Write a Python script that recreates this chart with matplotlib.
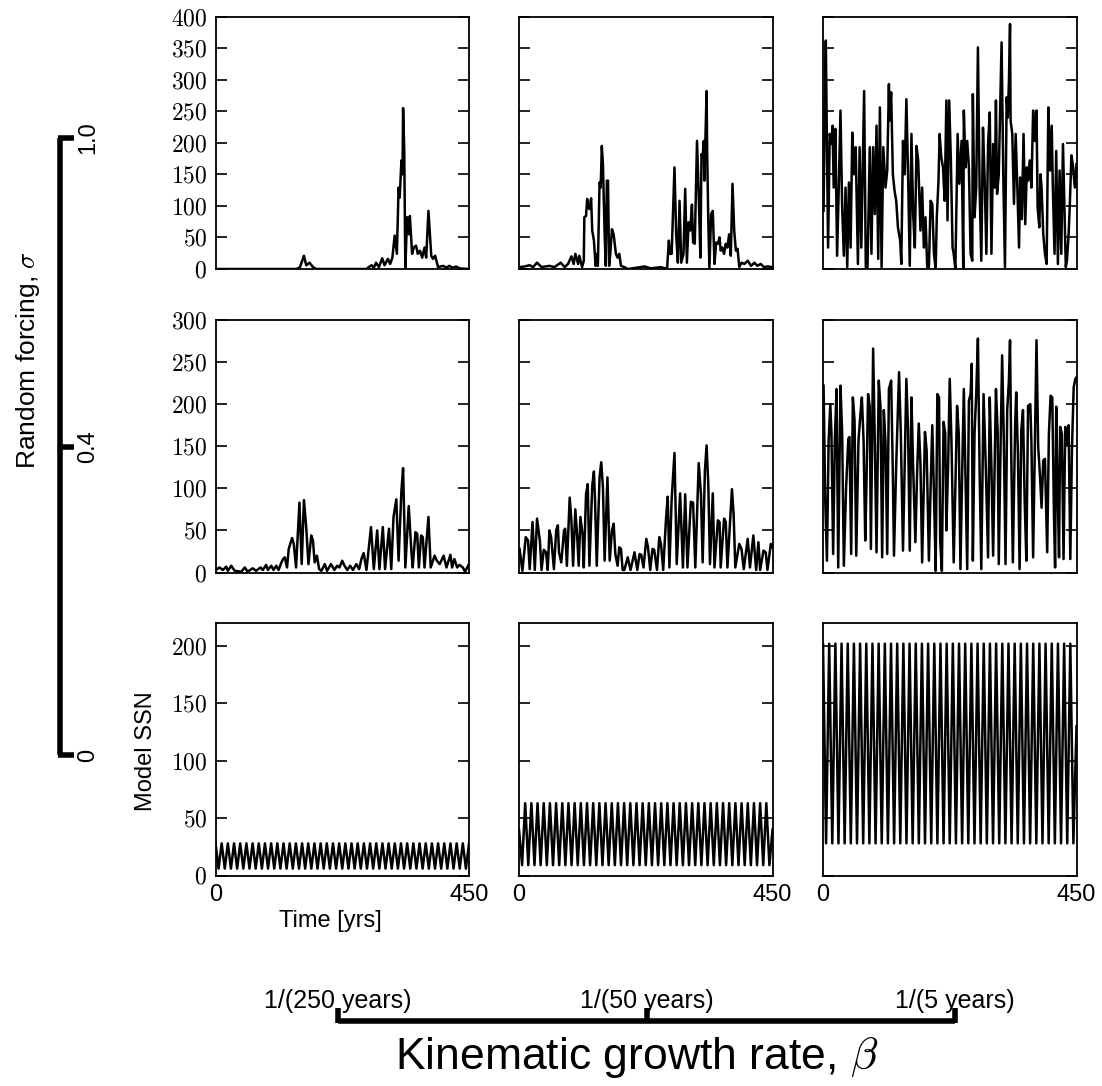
import numpy as np
import matplotlib
matplotlib.use("Agg")
import matplotlib.pyplot as plt
from matplotlib.lines import Line2D

plt.rcParams['font.family'] = ['Liberation Sans', 'DejaVu Sans']
plt.rcParams['mathtext.fontset'] = 'cm'

# ---------------- data ----------------
sigma_labels = ["1.0", "0.4", "0"]
beta_labels = ["1/(250 years)", "1/(50 years)", "1/(5 years)"]

# row 1 (sigma = 1.0)
t_a1 = [0, 144, 150, 157, 161, 167, 173, 179, 268, 272, 277, 281, 285, 290, 296, 300, 306, 310, 314, 318,
        322, 325, 327, 330, 332, 333, 335, 337, 340, 343, 345, 349, 352, 356, 359, 363, 367, 371, 374, 378,
        383, 386, 390, 395, 404, 410, 415, 421, 427, 433, 450]
v_a1 = [0, 0, 3, 21, 6, 10, 3, 0, 0, 3, 6, 2, 10, 3, 17, 6, 16, 8, 18, 53,
        24, 129, 113, 172, 150, 255, 190, 0, 82, 55, 84, 24, 34, 37, 24, 29, 18, 34, 18, 92,
        21, 16, 21, 3, 5, 2, 5, 2, 4, 1, 0]

t_a2 = [1, 10, 19, 25, 32, 40, 54, 63, 74, 81, 87, 93, 97, 100, 105, 107, 112, 115, 116, 119,
        121, 123, 125, 128, 130, 133, 136, 138, 140, 143, 145, 147, 149, 152, 154, 156, 158, 160, 162, 165,
        168, 172, 175, 178, 181, 187, 193, 223, 234, 252, 258, 263, 266, 268, 271, 276, 279, 282, 285, 288,
        292, 295, 298, 301, 304, 307, 309, 312, 316, 319, 322, 324, 326, 328, 329, 331, 333, 334, 336, 338,
        341, 344, 347, 350, 353, 356, 358, 361, 364, 367, 370, 373, 376, 379, 382, 385, 388, 391, 395, 400,
        406, 412, 418, 423, 429, 435, 441, 450]
v_a2 = [3, 4, 6, 3, 10, 3, 5, 3, 10, 3, 8, 20, 8, 24, 8, 21, 3, 13, 82, 84,
        111, 98, 95, 112, 61, 45, 5, 24, 5, 137, 129, 195, 166, 55, 5, 140, 140, 5, 24, 63,
        55, 24, 18, 24, 5, 3, 0, 4, 1, 3, 1, 2, 45, 24, 24, 161, 55, 10, 108, 10,
        24, 127, 10, 74, 61, 102, 42, 40, 203, 119, 18, 182, 177, 203, 140, 209, 282, 187, 77, 0,
        87, 92, 8, 42, 40, 50, 29, 34, 24, 40, 34, 55, 21, 135, 61, 29, 32, 3, 10, 8,
        13, 5, 10, 5, 8, 3, 4, 3]

t_a3 = [1, 3, 5, 9, 12, 15, 17, 19, 22, 25, 28, 31, 34, 37, 40, 43, 46, 49, 52, 55,
        58, 62, 65, 68, 73, 76, 79, 83, 86, 89, 92, 95, 98, 101, 104, 107, 111, 114, 117, 118,
        121, 124, 127, 130, 133, 137, 139, 142, 145, 148, 151, 154, 157, 160, 163, 166, 169, 173, 176, 179,
        182, 185, 188, 191, 194, 197, 200, 202, 205, 207, 210, 213, 216, 219, 221, 224, 227, 230, 232, 235,
        239, 242, 246, 249, 250, 253, 256, 259, 262, 265, 266, 269, 272, 275, 278, 281, 284, 287, 290, 293,
        296, 299, 302, 305, 307, 309, 312, 315, 317, 320, 323, 326, 328, 330, 332, 333, 336, 339, 342, 345,
        348, 350, 353, 356, 359, 362, 364, 367, 370, 373, 376, 379, 381, 384, 386, 388, 391, 394, 397, 400,
        403, 406, 408, 411, 414, 417, 420, 423, 426, 429, 431, 433, 436, 438, 441, 444, 447, 450]
v_a3 = [92, 250, 362, 34, 214, 198, 227, 129, 222, 21, 129, 251, 98, 21, 129, 3, 137, 34, 216, 150,
        193, 8, 193, 34, 282, 3, 3, 193, 24, 193, 87, 227, 16, 256, 3, 193, 129, 156, 293, 235,
        280, 150, 124, 108, 66, 45, 8, 203, 150, 269, 150, 5, 214, 87, 34, 195, 172, 61, 129, 34,
        82, 3, 3, 108, 103, 24, 0, 82, 140, 214, 177, 161, 108, 267, 77, 267, 172, 34, 24, 0,
        214, 135, 203, 0, 251, 161, 203, 161, 24, 13, 277, 82, 129, 351, 129, 13, 224, 140, 24, 198,
        248, 24, 198, 129, 267, 119, 150, 272, 359, 150, 3, 272, 240, 296, 388, 235, 214, 103, 214, 129,
        34, 145, 79, 214, 71, 161, 140, 172, 129, 251, 203, 251, 98, 66, 150, 129, 55, 24, 8, 256,
        156, 227, 129, 24, 187, 8, 156, 24, 198, 77, 3, 13, 55, 98, 180, 161, 129, 166]

# row 2 (sigma = 0.4)
t_b1 = [1, 7, 13, 19, 22, 28, 34, 46, 52, 57, 66, 72, 80, 84, 90, 93, 99, 103, 108, 112,
        117, 120, 123, 127, 130, 136, 139, 143, 149, 153, 157, 161, 165, 170, 173, 176, 180, 184, 188, 194,
        198, 205, 211, 216, 220, 225, 229, 234, 239, 244, 250, 255, 259, 263, 268, 276, 281, 287, 291, 297,
        301, 308, 312, 316, 321, 325, 330, 333, 337, 343, 348, 350, 355, 358, 361, 365, 368, 371, 378, 382,
        389, 393, 398, 405, 410, 417, 420, 424, 429, 433, 439, 443, 450]
v_b1 = [3, 6, 3, 7, 2, 8, 2, 1, 6, 1, 5, 2, 6, 3, 9, 3, 8, 3, 8, 3,
        12, 16, 18, 6, 28, 41, 34, 6, 83, 10, 86, 54, 10, 44, 38, 12, 20, 4, 2, 10,
        2, 10, 3, 8, 6, 14, 8, 3, 8, 3, 10, 4, 16, 23, 3, 54, 4, 50, 4, 54,
        4, 52, 4, 66, 87, 14, 97, 124, 6, 79, 22, 6, 48, 46, 6, 44, 42, 6, 66, 6,
        20, 14, 10, 20, 6, 21, 6, 16, 6, 9, 6, 1, 10]

t_b2 = [1, 6, 12, 16, 19, 24, 28, 32, 37, 40, 44, 48, 51, 54, 57, 62, 66, 69, 71, 75,
        80, 82, 85, 90, 93, 96, 100, 103, 106, 109, 113, 115, 119, 122, 125, 130, 133, 135, 138, 143,
        146, 149, 152, 157, 161, 165, 168, 171, 175, 178, 181, 184, 187, 193, 198, 205, 210, 214, 217, 221,
        226, 229, 233, 237, 240, 245, 249, 252, 256, 261, 264, 267, 271, 276, 280, 286, 291, 295, 299, 305,
        309, 313, 319, 323, 326, 330, 333, 336, 339, 344, 347, 353, 356, 358, 364, 367, 370, 378, 381, 384,
        391, 395, 399, 406, 410, 416, 421, 425, 428, 434, 438, 441, 447, 450]
v_b2 = [28, 2, 42, 38, 4, 60, 3, 64, 38, 3, 27, 24, 3, 50, 42, 4, 50, 56, 24, 12,
        50, 52, 8, 89, 62, 8, 75, 46, 8, 66, 44, 6, 93, 105, 8, 103, 120, 85, 8, 113,
        131, 101, 14, 113, 14, 50, 58, 22, 8, 30, 28, 3, 3, 18, 3, 24, 3, 22, 21, 6,
        40, 30, 3, 28, 27, 3, 42, 34, 3, 64, 90, 6, 87, 142, 10, 94, 6, 93, 6, 84,
        83, 6, 130, 93, 12, 121, 151, 105, 10, 94, 6, 62, 60, 6, 64, 60, 6, 99, 69, 6,
        34, 28, 4, 40, 6, 44, 3, 36, 3, 26, 24, 3, 34, 30]

t_b3 = [1, 4, 7, 10, 13, 15, 18, 21, 24, 27, 31, 34, 37, 41, 45, 47, 50, 53, 56, 59,
        63, 67, 69, 72, 75, 77, 80, 83, 85, 89, 92, 95, 99, 102, 105, 108, 111, 114, 117, 121,
        124, 126, 130, 135, 138, 142, 148, 151, 154, 157, 160, 164, 167, 170, 173, 176, 179, 181, 184, 188,
        191, 194, 197, 200, 203, 206, 208, 211, 214, 217, 219, 222, 225, 228, 232, 235, 238, 241, 244, 247,
        250, 253, 256, 259, 262, 264, 266, 269, 272, 275, 278, 281, 285, 289, 293, 296, 299, 302, 307, 310,
        312, 315, 318, 321, 324, 327, 330, 332, 334, 337, 341, 343, 346, 349, 352, 355, 358, 361, 364, 368,
        370, 373, 376, 379, 382, 385, 388, 391, 394, 398, 401, 404, 407, 410, 412, 414, 417, 419, 421, 424,
        427, 430, 433, 436, 439, 442, 445, 448, 450]
v_b3 = [222, 85, 14, 157, 200, 165, 22, 157, 218, 6, 222, 165, 8, 101, 159, 161, 22, 208, 181, 20,
        157, 193, 208, 157, 38, 101, 212, 197, 28, 266, 153, 24, 228, 197, 18, 193, 153, 22, 218, 228,
        117, 20, 129, 238, 169, 26, 230, 169, 26, 208, 125, 36, 117, 177, 129, 12, 107, 167, 145, 14,
        101, 175, 93, 2, 212, 208, 38, 2, 179, 165, 50, 125, 230, 157, 12, 101, 198, 165, 4, 117,
        218, 113, 4, 204, 212, 248, 14, 165, 212, 278, 121, 4, 212, 125, 18, 208, 125, 20, 218, 169,
        10, 141, 258, 157, 10, 193, 228, 276, 149, 12, 173, 214, 141, 4, 169, 193, 85, 14, 198, 200,
        153, 18, 145, 276, 149, 117, 77, 133, 135, 24, 165, 210, 208, 69, 6, 197, 85, 18, 173, 165,
        16, 173, 153, 175, 16, 149, 220, 230, 232]

# row 3 (sigma = 0): regular 11-yr oscillation, extrema values
v_c1 = [28, 6, 28, 6, 28, 6, 28, 6, 28, 6, 28, 6, 28, 6, 28, 6, 28, 6, 28, 6,
        28, 6, 28, 6, 28, 6, 28, 6, 28, 6, 28, 6, 28, 6, 28, 6, 28, 6, 28, 6,
        28, 6, 28, 6, 28, 6, 28, 6, 28, 6, 28, 6, 28, 6, 28, 6, 28, 6, 28, 6,
        28, 6, 28, 6, 28, 6, 28, 6, 28, 6, 28, 6, 28, 6, 28, 6, 28, 6, 28, 6,
        28, 6, 28]
v_c2 = [40, 9, 63, 9, 63, 9, 63, 9, 63, 9, 63, 9, 63, 9, 63, 9, 63, 9, 63, 9,
        63, 9, 63, 9, 63, 9, 63, 9, 63, 9, 63, 9, 63, 9, 63, 9, 63, 9, 63, 9,
        63, 9, 63, 9, 63, 9, 63, 9, 63, 9, 63, 9, 63, 9, 63, 9, 63, 9, 63, 9,
        63, 9, 63, 9, 63, 9, 63, 9, 63, 9, 63, 9, 63, 9, 63, 9, 63, 9, 63, 9,
        63, 9, 40]
v_c3 = [202, 28, 202, 28, 202, 28, 202, 28, 202, 28, 202, 28, 202, 28, 202, 28, 202, 28, 202, 28,
        202, 28, 202, 28, 202, 28, 202, 28, 202, 28, 202, 28, 202, 28, 202, 28, 202, 28, 202, 28,
        202, 28, 202, 28, 202, 28, 202, 28, 202, 28, 202, 28, 202, 28, 202, 28, 202, 28, 202, 28,
        202, 28, 202, 28, 202, 28, 202, 28, 202, 28, 202, 28, 202, 28, 202, 28, 202, 28, 202, 28,
        202, 28, 130]
t_c = np.linspace(0, 450, len(v_c1))

row_ylim = [400, 300, 220]
row_yticks = [[0, 50, 100, 150, 200, 250, 300, 350, 400],
              [0, 50, 100, 150, 200, 250, 300],
              [0, 50, 100, 150, 200]]

series = [[(t_a1, v_a1), (t_a2, v_a2), (t_a3, v_a3)],
          [(t_b1, v_b1), (t_b2, v_b2), (t_b3, v_b3)],
          [(t_c, v_c1), (t_c, v_c2), (t_c, v_c3)]]

# ---------------- figure ----------------
W, H = 1102, 1086
fig = plt.figure(figsize=(W / 100, H / 100), dpi=100)

col_left = [215.5, 519, 823]
row_top = [16.5, 320, 623]
aw, ah = 253.5, 252.5

for r in range(3):
    for c in range(3):
        ax = fig.add_axes([col_left[c] / W, 1 - (row_top[r] + ah) / H, aw / W, ah / H])
        t, v = series[r][c]
        ax.plot(t, v, color='black', lw=1.8)
        ax.set_xlim(0, 450)
        ax.set_ylim(0, row_ylim[r])
        ax.set_yticks(row_yticks[r])
        if c == 0:
            ax.set_yticklabels([f'${y}$' for y in row_yticks[r]], fontsize=17)
        else:
            ax.set_yticklabels([])
        ax.tick_params(axis='y', direction='in', length=8, width=1.2, left=True, right=True, pad=6)
        if r == 2:
            ax.set_xticks([0, 450])
            ax.set_xticklabels(['0', '450'], fontsize=17)
            ax.tick_params(axis='x', length=0, pad=6)
        else:
            ax.set_xticks([])
        for s in ax.spines.values():
            s.set_linewidth(1.3)

fig.text(146 / W, 1 - 751 / H, 'Model SSN', rotation=90, ha='center', va='center', fontsize=17)
fig.text(330 / W, 1 - 921 / H, 'Time [yrs]', ha='center', va='center', fontsize=17)

# left bar: random forcing
bx = 60
ys = [138, 447, 755]
fig.add_artist(Line2D([bx / W, bx / W], [1 - ys[0] / H, 1 - ys[2] / H], color='black', lw=4,
                      solid_capstyle='butt'))
for y, lab in zip(ys, sigma_labels):
    fig.add_artist(Line2D([bx / W - 2 / W, 74 / W], [1 - y / H, 1 - y / H], color='black', lw=4,
                          solid_capstyle='butt'))
    fig.text(88 / W, 1 - y / H, lab, rotation=90, ha='center', va='center', fontsize=17)
fig.text(28 / W, 1 - 360 / H, r'Random forcing, $\sigma$', rotation=90, ha='center', va='center',
         fontsize=19)

# bottom bar: kinematic growth rate
by = 1021
xs = [338, 647, 955]
fig.add_artist(Line2D([xs[0] / W, xs[2] / W], [1 - by / H, 1 - by / H], color='black', lw=4,
                      solid_capstyle='butt'))
for x, lab in zip(xs, beta_labels):
    fig.add_artist(Line2D([x / W, x / W], [1 - (by + 2) / H, 1 - 1008 / H], color='black', lw=4,
                          solid_capstyle='butt'))
    fig.text(x / W, 1 - 1001 / H, lab, ha='center', va='center', fontsize=18)
fig.text(637 / W, 1 - 1058 / H, r'Kinematic growth rate, $\beta$', ha='center', va='center', fontsize=32)

fig.savefig('out.png', dpi=100)
